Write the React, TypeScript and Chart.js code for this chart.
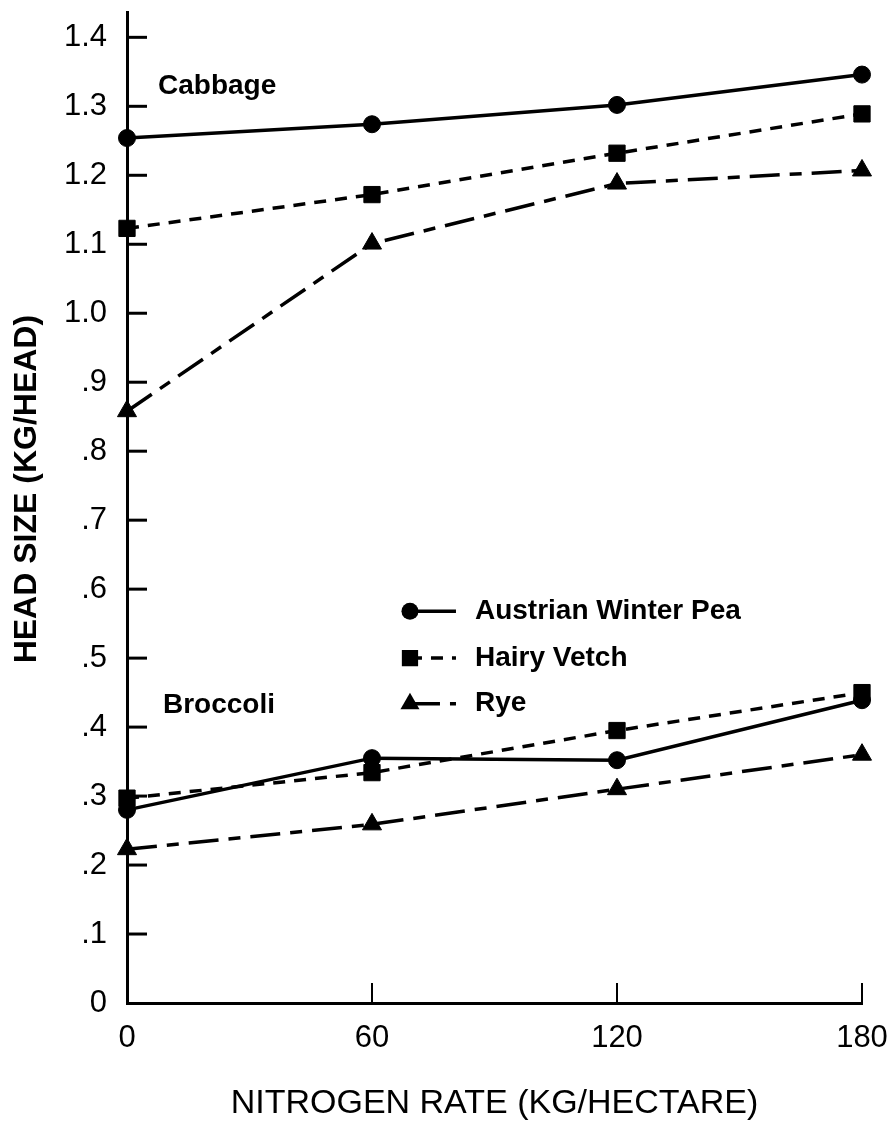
import React, { useEffect, useRef } from 'react';
import { Chart, registerables } from 'chart.js';

Chart.register(...registerables);

// ---- data ----
const nitrogenRates = [0, 60, 120, 180];
const cabbageAustrianPea = [1.254, 1.274, 1.302, 1.346];
const cabbageHairyVetch = [1.123, 1.172, 1.232, 1.289];
const cabbageRye = [0.858, 1.101, 1.188, 1.207];
const broccoliAustrianPea = [0.28, 0.355, 0.352, 0.439];
const broccoliHairyVetch = [0.297, 0.334, 0.395, 0.45];
const broccoliRye = [0.223, 0.259, 0.31, 0.36];

const seriesNames = ['Austrian Winter Pea', 'Hairy Vetch', 'Rye'];
const cropNames = ['Cabbage', 'Broccoli'];

const xTickValues = [0, 60, 120, 180];
const yTickValues = [0, 0.1, 0.2, 0.3, 0.4, 0.5, 0.6, 0.7, 0.8, 0.9, 1.0, 1.1, 1.2, 1.3, 1.4];
const yTickLabels = ['0', '.1', '.2', '.3', '.4', '.5', '.6', '.7', '.8', '.9', '1.0', '1.1', '1.2', '1.3', '1.4'];

const xTitle = 'NITROGEN RATE (KG/HECTARE)';
const yTitle = 'HEAD SIZE (KG/HEAD)';

// ---- styles ----
const INK = '#000';
const FONT = '"Liberation Sans", Arial, sans-serif';
const styles = [
  { dash: [] as number[], point: 'circle', radius: 8.5 },
  { dash: [12, 9], point: 'rect', radius: 11.5 },
  { dash: [30, 10, 12, 10], point: 'triangle', radius: 11 },
];

function makeDataset(label: string, values: number[], s: number) {
  const st = styles[s];
  return {
    label,
    data: nitrogenRates.map((x, i) => ({ x, y: values[i] })),
    borderColor: INK,
    backgroundColor: INK,
    borderWidth: 3.5,
    borderDash: st.dash,
    pointStyle: st.point,
    pointRadius: st.radius,
    pointBackgroundColor: INK,
    pointBorderColor: INK,
    pointBorderWidth: 1,
    tension: 0,
    clip: false as const,
  };
}

function drawMarker(ctx: CanvasRenderingContext2D, kind: string, x: number, y: number, r: number) {
  ctx.beginPath();
  if (kind === 'circle') {
    ctx.arc(x, y, r, 0, Math.PI * 2);
  } else if (kind === 'rect') {
    const h = r * Math.SQRT1_2;
    ctx.rect(x - h, y - h, 2 * h, 2 * h);
  } else {
    ctx.moveTo(x, y - r);
    ctx.lineTo(x + r * Math.sin((2 * Math.PI) / 3), y - r * Math.cos((2 * Math.PI) / 3));
    ctx.lineTo(x + r * Math.sin((4 * Math.PI) / 3), y - r * Math.cos((4 * Math.PI) / 3));
    ctx.closePath();
  }
  ctx.fill();
}

const overlayPlugin = {
  id: 'overlay',
  afterDraw(chart: any) {
    const { ctx } = chart;
    const xs = chart.scales.x;
    const ys = chart.scales.y;
    ctx.save();
    ctx.strokeStyle = INK;
    ctx.fillStyle = INK;
    ctx.setLineDash([]);

    // inward tick marks
    const x0 = xs.getPixelForValue(0);
    const yb = ys.getPixelForValue(0);
    ctx.lineWidth = 3;
    yTickValues.forEach((v) => {
      if (v === 0) return;
      const py = ys.getPixelForValue(v);
      ctx.beginPath();
      ctx.moveTo(x0, py);
      ctx.lineTo(x0 + 20, py);
      ctx.stroke();
    });
    ctx.lineWidth = 2;
    xTickValues.forEach((v) => {
      if (v === 0) return;
      const px = xs.getPixelForValue(v);
      ctx.beginPath();
      ctx.moveTo(px, yb);
      ctx.lineTo(px, yb - 20);
      ctx.stroke();
    });

    // y-axis title (rotated), centred a little above the axis middle as in the original
    ctx.save();
    ctx.font = `bold 32px ${FONT}`;
    ctx.textAlign = 'center';
    ctx.textBaseline = 'middle';
    ctx.translate(ys.left + 27, ys.getPixelForValue(0.745));
    ctx.rotate(-Math.PI / 2);
    ctx.fillText(yTitle, 0, 0);
    ctx.restore();

    // crop labels
    ctx.font = `bold 28px ${FONT}`;
    ctx.textBaseline = 'middle';
    ctx.textAlign = 'left';
    ctx.fillText(cropNames[0], xs.getPixelForValue(7.6), ys.getPixelForValue(1.329));
    ctx.fillText(cropNames[1], xs.getPixelForValue(8.8), ys.getPixelForValue(0.431));

    // legend
    const lx = xs.getPixelForValue(69.3);
    const rowsY = [0.568, 0.5, 0.434];
    rowsY.forEach((rv, i) => {
      const py = ys.getPixelForValue(rv);
      const st = styles[i];
      ctx.lineWidth = 3.5;
      ctx.setLineDash(st.dash);
      ctx.beginPath();
      ctx.moveTo(lx, py);
      ctx.lineTo(lx + 46, py);
      ctx.stroke();
      ctx.setLineDash([]);
      drawMarker(ctx, st.point, lx, py, st.radius);
      ctx.fillText(seriesNames[i], lx + 65, py);
    });
    ctx.restore();
  },
};

export default function App() {
  const canvasRef = useRef<HTMLCanvasElement | null>(null);

  useEffect(() => {
    if (!canvasRef.current) return;
    const chart = new Chart(canvasRef.current, {
      type: 'line',
      data: {
        datasets: [
          makeDataset(seriesNames[0] + ' (' + cropNames[0] + ')', cabbageAustrianPea, 0),
          makeDataset(seriesNames[1] + ' (' + cropNames[0] + ')', cabbageHairyVetch, 1),
          makeDataset(seriesNames[2] + ' (' + cropNames[0] + ')', cabbageRye, 2),
          makeDataset(seriesNames[0] + ' (' + cropNames[1] + ')', broccoliAustrianPea, 0),
          makeDataset(seriesNames[1] + ' (' + cropNames[1] + ')', broccoliHairyVetch, 1),
          makeDataset(seriesNames[2] + ' (' + cropNames[1] + ')', broccoliRye, 2),
        ] as any,
      },
      options: {
        animation: false,
        responsive: true,
        maintainAspectRatio: false,
        layout: { padding: { top: 10, right: 29, left: 0, bottom: 0 } },
        plugins: {
          legend: { display: false },
          tooltip: { enabled: false },
        },
        scales: {
          x: {
            type: 'linear',
            min: 0,
            max: 180,
            afterBuildTicks: (scale: any) => {
              scale.ticks = xTickValues.map((v) => ({ value: v }));
            },
            afterFit: (scale: any) => {
              scale.height = 121;
              scale.paddingLeft = 0;
              scale.paddingRight = 0;
              scale.paddingTop = 0;
              scale.paddingBottom = 0;
            },
            grid: { display: false, drawTicks: false },
            border: { display: true, color: INK, width: 3 },
            ticks: {
              color: INK,
              padding: 17,
              maxRotation: 0,
              font: { family: FONT, size: 31 },
              callback: (v: any) => String(v),
            },
            title: {
              display: true,
              text: xTitle,
              color: INK,
              font: { family: FONT, size: 34 },
              padding: { top: 0, bottom: 0 },
            },
          },
          y: {
            type: 'linear',
            min: 0,
            max: 1.436,
            afterBuildTicks: (scale: any) => {
              scale.ticks = yTickValues.map((v) => ({ value: v }));
            },
            afterFit: (scale: any) => {
              scale.width = 127;
              scale.paddingLeft = 0;
              scale.paddingRight = 0;
              scale.paddingTop = 0;
              scale.paddingBottom = 0;
            },
            grid: { display: false, drawTicks: false },
            border: { display: true, color: INK, width: 3 },
            ticks: {
              color: INK,
              padding: 20,
              font: { family: FONT, size: 31 },
              callback: (v: any) => {
                const i = yTickValues.findIndex((t) => Math.abs(t - Number(v)) < 1e-6);
                return i >= 0 ? yTickLabels[i] : '';
              },
            },
            title: { display: false },
          },
        },
      } as any,
      plugins: [overlayPlugin],
    });
    return () => chart.destroy();
  }, []);

  return (
    <div style={{ position: 'fixed', left: 0, top: 0, width: 891, height: 1124, background: '#fff' }}>
      <canvas ref={canvasRef} />
    </div>
  );
}
